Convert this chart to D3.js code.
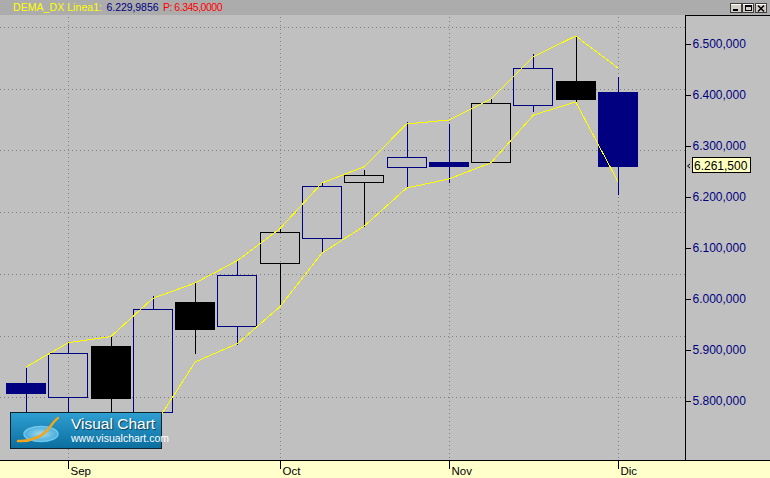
<!DOCTYPE html>
<html><head><meta charset="utf-8">
<script src="https://cdn.jsdelivr.net/npm/d3@7"></script>
<style>html,body{margin:0;padding:0;background:#c0c0c0;}svg{display:block;font-family:"Liberation Sans",Arial,sans-serif;}</style>
</head><body>
<svg id="c" width="770" height="478"></svg>
<script>
// ---- data ----
const weeks = ["2008-08-25","2008-09-01","2008-09-08","2008-09-15","2008-09-22","2008-09-29","2008-10-06","2008-10-13","2008-10-20","2008-10-27","2008-11-03","2008-11-10","2008-11-17","2008-11-24","2008-12-01"];
const open  = [5.835,5.807,5.908,5.778,5.994,5.948,6.070,6.119,6.229,6.258,6.268,6.268,6.380,6.4275,6.406];
const high  = [5.865,5.914,5.925,6.006,6.031,6.0755,6.141,6.229,6.253,6.3465,6.343,6.392,6.480,6.5157,6.436];
const low   = [5.770,5.775,5.775,5.770,5.892,5.9098,5.985,6.093,6.1418,6.2182,6.227,6.268,6.3673,6.380,6.204];
const close = [5.816,5.894,5.8065,5.980,5.9406,6.0465,6.1308,6.221,6.2425,6.2778,6.2614,6.3837,6.4524,6.3927,6.2615];
const tone  = [1,1,0,1,0,1,0,1,0,1,1,0,1,0,1];   // 1 = rising tone, 0 = falling tone
const upperBand = [5.8667,5.9143,5.9261,6.0014,6.0314,6.0755,6.1373,6.2275,6.2594,6.3431,6.351,6.3922,6.4751,6.5157,6.4529];
const lowerBand = [5.7235,5.7314,5.7392,5.7471,5.8765,5.9127,5.9843,6.0902,6.1431,6.2176,6.2353,6.2673,6.3608,6.3863,6.2300];
const yTicks = [5.8,5.9,6.0,6.1,6.2,6.3,6.4,6.5];
const monthNames = ["Ene","Feb","Mar","Abr","May","Jun","Jul","Ago","Sep","Oct","Nov","Dic"];
const titleName = "DEMA_DX Linea1:";
const lineaValue = 6.2299856;
const pValue = 6.345;
const lastPrice = close[close.length-1];

// ---- layout ----
const W = 770, H = 478;
const headerH = 15, plotR = 685, plotB = 460;
const svg = d3.select("#c");
const fmtLoc = d3.formatLocale({decimal:",", thousands:".", grouping:[3], currency:["",""]});
const f3 = v => fmtLoc.format(",.3f")(v*1000);
const f4 = v => fmtLoc.format(",.4f")(v*1000);

const x = d3.scalePoint().domain(weeks).range([26, 618]);
const step = x.step();
const bodyW = Math.round(step*0.955);
const y = d3.scaleLinear().domain([5.8, 6.5]).range([401, 44]);
const px = v => Math.round(v) + 0.5;

// backgrounds
svg.append("rect").attr("width",W).attr("height",H).attr("fill","#c0c0c0");
svg.append("rect").attr("width",W).attr("height",headerH).attr("fill","#acacac");
svg.append("rect").attr("x",0).attr("y",plotB).attr("width",W).attr("height",H-plotB).attr("fill","#ffffcc");

// grid
const g = svg.append("g").attr("shape-rendering","crispEdges");
const gridRows = d3.scaleLinear().domain([0,7]).range([27, 459]);
g.selectAll(".hg").data(d3.range(0,7)).join("line")
  .attr("x1",0).attr("x2",plotR).attr("y1",d=>px(gridRows(d))).attr("y2",d=>px(gridRows(d)))
  .attr("stroke","#808080").attr("stroke-dasharray","1,3");
const monthStarts = weeks.filter((w,i)=> i>0 && new Date(w).getUTCMonth() !== new Date(weeks[i-1]).getUTCMonth());
g.selectAll(".vg").data(monthStarts).join("line")
  .attr("x1",d=>px(x(d))).attr("x2",d=>px(x(d))).attr("y1",headerH+2).attr("y2",plotB)
  .attr("stroke","#808080").attr("stroke-dasharray","1,3");

// candles
const navy = "#000080", black = "#000000";
const cd = weeks.map((w,i)=>({w, o:open[i], h:high[i], l:low[i], c:close[i], t:tone[i]}));
const cg = svg.append("g").attr("shape-rendering","crispEdges");
cd.forEach(d=>{
  const col = d.t ? navy : black;
  const cx = px(x(d.w));
  const top = Math.round(y(Math.max(d.o,d.c))), bot = Math.round(y(Math.min(d.o,d.c)));
  const left = Math.round(x(d.w) - bodyW/2);
  if (d.c >= d.o) {
    cg.append("line").attr("x1",cx).attr("x2",cx).attr("y1",y(d.h)).attr("y2",top).attr("stroke",col);
    cg.append("line").attr("x1",cx).attr("x2",cx).attr("y1",bot).attr("y2",y(d.l)).attr("stroke",col);
    cg.append("rect").attr("x",left+0.5).attr("y",top+0.5).attr("width",bodyW-1).attr("height",Math.max(1,bot-top))
      .attr("fill","none").attr("stroke",col).attr("stroke-width",1.2);
  } else {
    cg.append("line").attr("x1",cx).attr("x2",cx).attr("y1",y(d.h)).attr("y2",y(d.l)).attr("stroke",col);
    cg.append("rect").attr("x",left).attr("y",top).attr("width",bodyW).attr("height",Math.max(3,bot-top+1))
      .attr("fill",col);
  }
});

// bands
const line = d3.line().x((d,i)=>x(weeks[i])).y(d=>y(d));
[upperBand, lowerBand].forEach(b=>{
  svg.append("path").attr("d", line(b)).attr("fill","none").attr("stroke","#ffff00")
    .attr("stroke-width",1).attr("shape-rendering","crispEdges");
});

// logo
const defs = svg.append("defs");
const lg = defs.append("linearGradient").attr("id","lg").attr("x1",0).attr("y1",0).attr("x2",0).attr("y2",1);
lg.append("stop").attr("offset","0").attr("stop-color","#2f9fd2");
lg.append("stop").attr("offset","1").attr("stop-color","#0b6e9f");
const eg = defs.append("radialGradient").attr("id","eg");
eg.append("stop").attr("offset","0").attr("stop-color","#bfe9fb");
eg.append("stop").attr("offset","1").attr("stop-color","#4fb5e2");
const logo = svg.append("g");
logo.append("rect").attr("x",10.5).attr("y",412.5).attr("width",151).attr("height",36)
  .attr("fill","url(#lg)").attr("stroke","#10222e").attr("stroke-width",1);
logo.append("ellipse").attr("cx",41).attr("cy",434).attr("rx",17).attr("ry",7.5)
  .attr("fill","url(#eg)").attr("opacity",0.85).attr("stroke","#7fd3f5").attr("stroke-width",1.5);
logo.append("path").attr("d","M18,441 C30,442 44,436 50,427 C53,423 55,420 58,418")
  .attr("fill","none").attr("stroke","#f3a51c").attr("stroke-width",2.5).attr("stroke-linecap","round");
logo.append("text").attr("x",71).attr("y",429).attr("fill","#ffffff").attr("font-size",15.5)
  .attr("style","text-shadow:1px 1px 1px #0a3a55").text("Visual Chart");
logo.append("text").attr("x",71).attr("y",442).attr("fill","#ffffff").attr("font-size",10.5)
  .text("www.visualchart.com");

// right axis panel
const ax = svg.append("g").attr("shape-rendering","crispEdges");
ax.append("line").attr("x1",plotR+0.5).attr("x2",plotR+0.5).attr("y1",headerH).attr("y2",plotB).attr("stroke","#000");
ax.append("line").attr("x1",plotR).attr("x2",W).attr("y1",headerH+0.5).attr("y2",headerH+0.5).attr("stroke","#000");
const yAxis = d3.axisRight(y).tickValues(yTicks).tickSize(5).tickPadding(2).tickFormat(f3);
const yg = svg.append("g").attr("transform",`translate(${plotR+0.5},0)`).call(yAxis);
yg.select(".domain").remove();
yg.selectAll(".tick line").attr("stroke","#000").attr("shape-rendering","crispEdges");
yg.selectAll(".tick text").attr("fill",navy).attr("font-size",12).attr("font-family","Liberation Sans, Arial, sans-serif");
yg.selectAll(".tick").attr("transform",d=>`translate(0,${px(y(d))})`);

// last price tag
const ty = y(lastPrice);
svg.append("path").attr("d",`M${plotR+5},${Math.round(ty)-2} L${plotR+2.5},${Math.round(ty)} L${plotR+5},${Math.round(ty)+2}`)
  .attr("fill","none").attr("stroke","#000").attr("stroke-width",1);
svg.append("rect").attr("x",692.5).attr("y",Math.round(ty)-8.5).attr("width",58).attr("height",15)
  .attr("fill","#ffffc0").attr("stroke","#000").attr("shape-rendering","crispEdges");
svg.append("text").attr("x",694).attr("y",Math.round(ty)+4).attr("font-size",12).attr("fill","#000").text(f3(lastPrice));

// bottom axis
svg.append("line").attr("x1",0).attr("x2",W).attr("y1",plotB+0.5).attr("y2",plotB+0.5).attr("stroke","#000").attr("shape-rendering","crispEdges");
const xa = svg.append("g");
monthStarts.forEach(w=>{
  const xx = px(x(w));
  xa.append("line").attr("x1",xx).attr("x2",xx).attr("y1",plotB).attr("y2",plotB+9).attr("stroke","#000").attr("shape-rendering","crispEdges");
  xa.append("text").attr("x",xx+2).attr("y",474.5).attr("font-size",11.5).attr("fill","#000").text(monthNames[new Date(w).getUTCMonth()]);
});

// header text
const ht = svg.append("g").attr("font-size",10.5);
ht.append("text").attr("x",13).attr("y",10.5).attr("fill","#ffff00").attr("textLength",89).attr("lengthAdjust","spacing").text(titleName);
ht.append("text").attr("x",106.5).attr("y",10.5).attr("fill",navy).attr("textLength",52).attr("lengthAdjust","spacing").text(f4(lineaValue));
ht.append("text").attr("x",163).attr("y",10.5).attr("fill","#ff0000").attr("textLength",59.5).attr("lengthAdjust","spacing").text("P: " + f4(pValue));

// window buttons
const btns = [730, 742, 755];
const bg = svg.append("g").attr("shape-rendering","crispEdges");
btns.forEach((bx,i)=>{
  bg.append("rect").attr("x",bx+0.5).attr("y",3.5).attr("width",11).attr("height",9).attr("fill","#d4d0c8").attr("stroke","#404040");
  bg.append("line").attr("x1",bx+1).attr("x2",bx+11).attr("y1",4.5).attr("y2",4.5).attr("stroke","#ffffff");
});
bg.append("rect").attr("x",733).attr("y",9).attr("width",5).attr("height",2).attr("fill","#000");
bg.append("rect").attr("x",745.5).attr("y",5.5).attr("width",6).attr("height",5).attr("fill","none").attr("stroke","#000");
bg.append("line").attr("x1",745).attr("x2",752).attr("y1",6).attr("y2",6).attr("stroke","#000");
bg.append("path").attr("d","M758,5.5 L764,11.5 M764,5.5 L758,11.5").attr("stroke","#000").attr("stroke-width",1.5).attr("shape-rendering","auto");
</script>
</body></html>
